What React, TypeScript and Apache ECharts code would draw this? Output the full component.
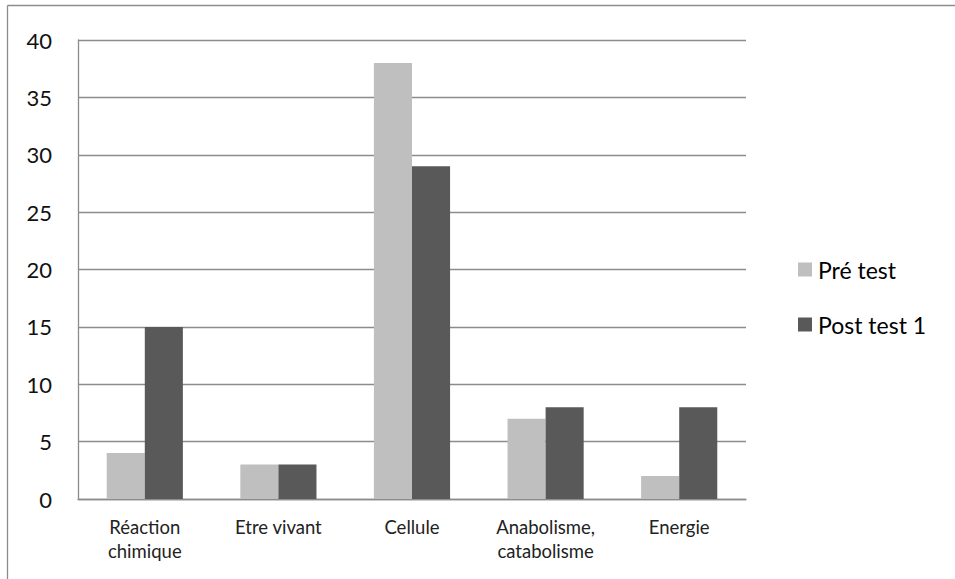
import React, { useEffect, useRef } from "react";
import * as echarts from "echarts";

const categories = ["Réaction\nchimique", "Etre vivant", "Cellule", "Anabolisme,\ncatabolisme", "Energie"];
const preTest = [4, 3, 38, 7, 2];
const postTest1 = [15, 3, 29, 8, 8];
const seriesNames = ["Pré test", "Post test 1"];
const yTicks = { min: 0, max: 40, interval: 5 };

export default function App() {
  const ref = useRef<HTMLDivElement>(null);
  useEffect(() => {
    if (!ref.current) return;
    const chart = echarts.init(ref.current, null, { renderer: "svg" });
    const font = "Lato, 'Open Sans', sans-serif";
    chart.setOption({
      animation: false,
      backgroundColor: "#ffffff",
      textStyle: { fontFamily: font },
      grid: { left: 78, top: 40, right: 209, bottom: 80, containLabel: false },
      legend: {
        orient: "vertical",
        left: 798,
        top: 258,
        padding: 0,
        itemWidth: 14,
        itemHeight: 14,
        itemGap: 32,
        icon: "rect",
        data: seriesNames,
        textStyle: { fontSize: 23, color: "#000", fontFamily: font, padding: [0, 0, 0, 1] },
      },
      xAxis: {
        type: "category",
        data: categories,
        axisLine: { lineStyle: { color: "#8c8c8c", width: 1.3 } },
        axisTick: { show: false },
        axisLabel: { fontSize: 18.5, color: "#222", lineHeight: 24, margin: 16, interval: 0, fontFamily: font },
      },
      yAxis: {
        type: "value",
        min: yTicks.min,
        max: yTicks.max,
        interval: yTicks.interval,
        axisLine: { show: true, lineStyle: { color: "#8c8c8c", width: 1.3 } },
        axisTick: { show: false },
        splitLine: { lineStyle: { color: "#8c8c8c", width: 1.3 } },
        axisLabel: { fontSize: 22, color: "#111", margin: 26, fontFamily: font },
      },
      series: [
        {
          name: seriesNames[0],
          type: "bar",
          data: preTest,
          barWidth: "28.5%",
          barGap: "0%",
          itemStyle: { color: "#bfbfbf" },
        },
        {
          name: seriesNames[1],
          type: "bar",
          data: postTest1,
          barWidth: "28.5%",
          barGap: "0%",
          itemStyle: { color: "#595959" },
        },
      ],
      graphic: [
        { type: "line", shape: { x1: 7.5, y1: 5.5, x2: 955, y2: 5.5 }, style: { stroke: "#8c8c8c", lineWidth: 1.3 } },
        { type: "line", shape: { x1: 7.5, y1: 5.5, x2: 7.5, y2: 579 }, style: { stroke: "#8c8c8c", lineWidth: 1.3 } },
      ],
    });
    return () => chart.dispose();
  }, []);
  return (
    <div
      ref={ref}
      style={{ position: "fixed", left: 0, top: 0, width: 955, height: 579 }}
    />
  );
}
